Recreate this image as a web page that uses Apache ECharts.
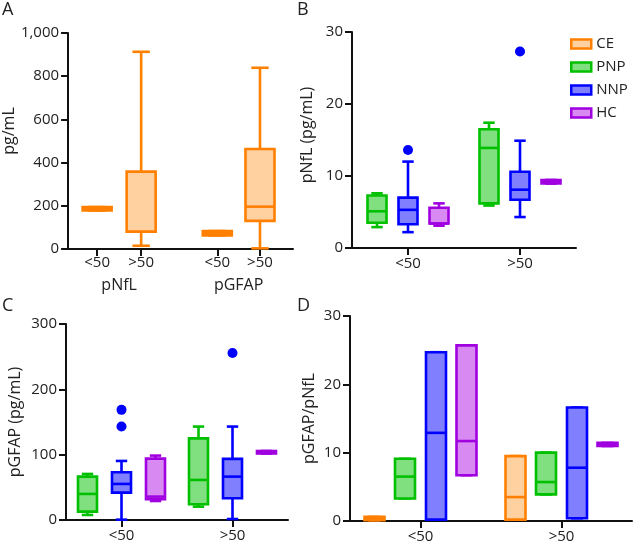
<!DOCTYPE html>
<html><head><meta charset="utf-8">
<script src="https://cdn.jsdelivr.net/npm/echarts@6/dist/echarts.min.js"></script>
<style>html,body{margin:0;padding:0;background:#fff}#c{width:634px;height:545px}</style>
</head><body><div id="c"></div>
<script>
// ---------- data ----------
const groups = ['CE', 'PNP', 'NNP', 'HC'];
const ageCats = ['<50', '>50'];
const aTickLabels = ['<50', '>50', '<50', '>50'];
const aMarkers = ['pNfL', 'pGFAP'];
// each box: [min, Q1, median, Q3, max]
// Panel A (CE only): pNfL <50, pNfL >50, pGFAP <50, pGFAP >50
const aCE = [[178, 178, 186, 194, 194], [15, 80, 80, 358, 913], [63, 63, 73, 83, 83], [3, 130, 196, 463, 839]];
// Panel B: pNfL (pg/mL), per age category
const bPNP = [[2.9, 3.5, 5.1, 7.3, 7.6], [5.9, 6.2, 13.9, 16.5, 17.4]];
const bNNP = [[2.2, 3.3, 5.3, 7.0, 12.0], [4.3, 6.7, 8.1, 10.6, 14.9]];
const bHC = [[3.1, 3.4, 3.4, 5.6, 6.2], [8.95, 8.95, 9.2, 9.45, 9.45]];
const bNNPOutliers = [['<50', 13.6], ['>50', 27.3]];
// Panel C: pGFAP (pg/mL)
const cPNP = [[7.7, 12.8, 39.9, 66.4, 70.5], [20.4, 24, 61.3, 125, 143]];
const cNNP = [[0.5, 41.9, 55.2, 73, 90.4], [1.5, 33.2, 66.4, 93.5, 143]];
const cHC = [[29.1, 31.7, 35.8, 94, 98.6], [101.8, 101.8, 103.7, 105.6, 105.6]];
const cNNPOutliers = [['<50', 168.6], ['<50', 143], ['>50', 255.5]];
// Panel D: pGFAP/pNfL (floating bars min..max, line at median)
const dCE = [[0.1, 0.1, 0.35, 0.6, 0.6], [0.2, 0.2, 3.5, 9.5, 9.5]];
const dPNP = [[3.3, 3.3, 6.5, 9.1, 9.1], [3.9, 3.9, 5.7, 10.0, 10.0]];
const dNNP = [[0.2, 0.2, 12.9, 24.7, 24.7], [0.4, 0.4, 7.8, 16.6, 16.6]];
const dHC = [[6.7, 6.7, 11.7, 25.7, 25.7], [10.97, 10.97, 11.2, 11.43, 11.43]];

// ---------- styles ----------
const COL = {
  CE: { s: '#FF8000', f: '#FFD0A0' },
  PNP: { s: '#00C000', f: '#80E080' },
  NNP: { s: '#0000FF', f: '#8080FF' },
  HC: { s: '#A000E0', f: '#D88AF2' }
};
const FONT = '"Open Sans", "Noto Sans", sans-serif';
const TXT = '#222';
const LW = 2.6;

function boxRender(g, boxW, offset) {
  const stroke = COL[g].s, fill = COL[g].f;
  return function (params, api) {
    const x = api.value(0);
    const p = [1, 2, 3, 4, 5].map(i => api.coord([x, api.value(i)]));
    const cx = p[0][0] + offset;
    const yMin = p[0][1], yQ1 = p[1][1], yMed = p[2][1], yQ3 = p[3][1], yMax = p[4][1];
    const hw = boxW / 2, cw = boxW * 0.3;
    const ls = { stroke: stroke, lineWidth: LW, fill: null, lineCap: 'butt' };
    return {
      type: 'group', children: [
        { type: 'line', shape: { x1: cx, y1: yQ3, x2: cx, y2: yMax }, style: ls },
        { type: 'line', shape: { x1: cx, y1: yQ1, x2: cx, y2: yMin }, style: ls },
        { type: 'line', shape: { x1: cx - cw, y1: yMax, x2: cx + cw, y2: yMax }, style: ls },
        { type: 'line', shape: { x1: cx - cw, y1: yMin, x2: cx + cw, y2: yMin }, style: ls },
        { type: 'rect', shape: { x: cx - hw, y: yQ3, width: boxW, height: yQ1 - yQ3 }, style: { fill: fill, stroke: stroke, lineWidth: LW } },
        { type: 'line', shape: { x1: cx - hw, y1: yMed, x2: cx + hw, y2: yMed }, style: ls }
      ]
    };
  };
}

function boxSeries(g, arr, gridIdx, boxW, offset, xs) {
  return {
    type: 'custom', name: g, xAxisIndex: gridIdx, yAxisIndex: gridIdx,
    renderItem: boxRender(g, boxW, offset),
    encode: { x: 0, y: [1, 2, 3, 4, 5] },
    data: arr.map((v, i) => [xs ? xs[i] : i].concat(v)),
    itemStyle: { color: COL[g].f, borderColor: COL[g].s },
    silent: true, z: 3
  };
}

function yAxisCfg(gridIdx, max, interval, name, nameGap, fmt, namePad) {
  return {
    type: 'value', gridIndex: gridIdx, min: 0, max: max, interval: interval,
    name: name, nameLocation: 'middle', nameGap: nameGap,
    nameTextStyle: { fontFamily: FONT, fontSize: 16, color: TXT, padding: namePad || 0 },
    axisLine: { show: true, onZero: false, lineStyle: { color: '#111', width: 2 } },
    axisTick: { show: true, length: 7, lineStyle: { color: '#111', width: 2 } },
    axisLabel: { fontFamily: FONT, fontSize: 15, color: TXT, margin: 9, formatter: fmt },
    splitLine: { show: false }
  };
}
function catAxisCfg(gridIdx) {
  return {
    type: 'category', gridIndex: gridIdx, data: ageCats, boundaryGap: true,
    axisLine: { show: true, onZero: false, lineStyle: { color: '#111', width: 2 } },
    axisTick: { show: true, alignWithLabel: true, length: 7, lineStyle: { color: '#111', width: 2 } },
    axisLabel: { fontFamily: FONT, fontSize: 15, color: TXT, margin: 8 },
    splitLine: { show: false }
  };
}

// panel A x positions (layout)
const aPos = [1, 2, 3.73, 4.7];
const aMid = [1.5, 4.215];
function nearestIdx(arr, v) { let b = 0; arr.forEach((a, i) => { if (Math.abs(a - v) < Math.abs(arr[b] - v)) b = i; }); return b; }

const option = {
  animation: false,
  backgroundColor: '#fff',
  textStyle: { fontFamily: FONT },
  grid: [
    { left: 68, top: 33, width: 225, height: 216 },
    { left: 352, top: 32, width: 224, height: 216 },
    { left: 66, top: 324, width: 222, height: 196 },
    { left: 350, top: 316, width: 282, height: 205 }
  ],
  xAxis: [
    {
      type: 'value', gridIndex: 0, min: 0.34, max: 5.45,
      axisLine: { show: true, onZero: false, lineStyle: { color: '#111', width: 2 } },
      axisTick: { show: true, length: 7, customValues: aPos, lineStyle: { color: '#111', width: 2 } },
      axisLabel: { fontFamily: FONT, fontSize: 15, color: TXT, margin: 6, customValues: aPos,
        formatter: v => aTickLabels[nearestIdx(aPos, v)] },
      splitLine: { show: false }
    },
    catAxisCfg(1), catAxisCfg(2), catAxisCfg(3),
    {
      type: 'value', gridIndex: 0, min: 0.34, max: 5.45, position: 'bottom',
      axisLine: { show: false }, axisTick: { show: false },
      axisLabel: { fontFamily: FONT, fontSize: 16, color: TXT, margin: 28, customValues: aMid,
        formatter: v => aMarkers[nearestIdx(aMid, v)] },
      splitLine: { show: false }
    }
  ],
  yAxis: [
    yAxisCfg(0, 1000, 200, 'pg/mL', 46, v => v.toLocaleString('en-US'), [0, 0, 0, 20]),
    yAxisCfg(1, 30, 10, 'pNfL (pg/mL)', 37, undefined, [0, 0, 0, 10]),
    yAxisCfg(2, 300, 100, 'pGFAP (pg/mL)', 43),
    yAxisCfg(3, 30, 10, 'pGFAP/pNfL', 33)
  ],
  legend: {
    left: 565, top: 30, orient: 'vertical', itemWidth: 20, itemHeight: 9, itemGap: 5,
    selectedMode: false,
    textStyle: { fontFamily: FONT, fontSize: 15, color: TXT, lineHeight: 18 },
    data: groups.map(g => ({ name: g, icon: 'rect', itemStyle: { color: COL[g].f, borderColor: COL[g].s, borderWidth: 2.5 } }))
  },
  graphic: [
    { type: 'text', left: 2, top: 1, style: { text: 'A', font: '18px ' + FONT, fill: TXT } },
    { type: 'text', left: 297, top: 1, style: { text: 'B', font: '18px ' + FONT, fill: TXT } },
    { type: 'text', left: 2, top: 297, style: { text: 'C', font: '18px ' + FONT, fill: TXT } },
    { type: 'text', left: 297, top: 297, style: { text: 'D', font: '18px ' + FONT, fill: TXT } }
  ],
  series: [
    boxSeries('CE', aCE, 0, 29, 0, aPos),
    boxSeries('PNP', bPNP, 1, 19, -31),
    boxSeries('NNP', bNNP, 1, 19, 0),
    boxSeries('HC', bHC, 1, 19, 31),
    { type: 'scatter', name: 'NNP', xAxisIndex: 1, yAxisIndex: 1, data: bNNPOutliers, symbolSize: 10, itemStyle: { color: COL.NNP.s, opacity: 1 }, z: 4, silent: true },
    boxSeries('PNP', cPNP, 2, 19, -34),
    boxSeries('NNP', cNNP, 2, 19, 0),
    boxSeries('HC', cHC, 2, 19, 34),
    { type: 'scatter', name: 'NNP', xAxisIndex: 2, yAxisIndex: 2, data: cNNPOutliers, symbolSize: 10, itemStyle: { color: COL.NNP.s, opacity: 1 }, z: 4, silent: true },
    boxSeries('CE', dCE, 3, 20, -46),
    boxSeries('PNP', dPNP, 3, 20, -15.5),
    boxSeries('NNP', dNNP, 3, 20, 15.5),
    boxSeries('HC', dHC, 3, 20, 46)
  ]
};
const chart = echarts.init(document.getElementById('c'), null, { renderer: 'canvas' });
chart.setOption(option);
</script></body></html>
